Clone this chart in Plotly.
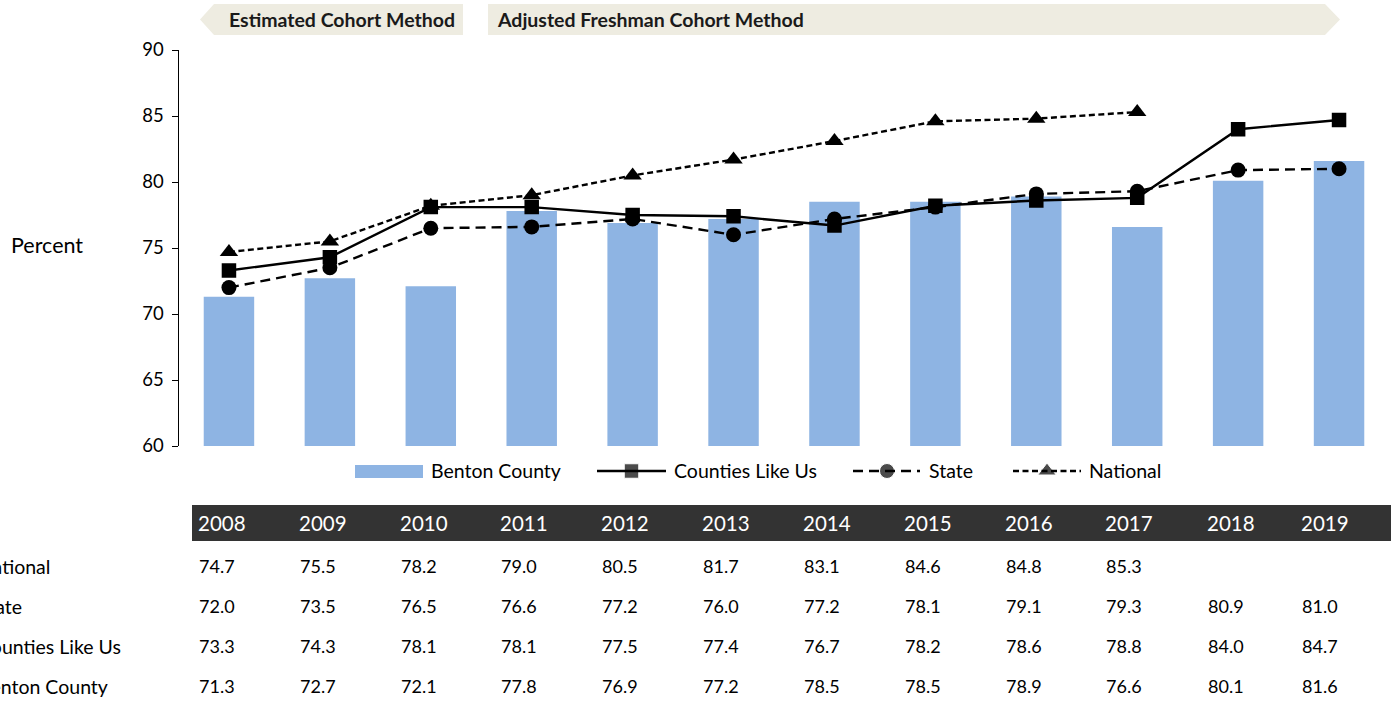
import plotly.graph_objects as go

years = ["2008", "2009", "2010", "2011", "2012", "2013", "2014", "2015", "2016", "2017", "2018", "2019"]
benton = [71.3, 72.7, 72.1, 77.8, 76.9, 77.2, 78.5, 78.5, 78.9, 76.6, 80.1, 81.6]
counties = [73.3, 74.3, 78.1, 78.1, 77.5, 77.4, 76.7, 78.2, 78.6, 78.8, 84.0, 84.7]
state = [72.0, 73.5, 76.5, 76.6, 77.2, 76.0, 77.2, 78.1, 79.1, 79.3, 80.9, 81.0]
national = [74.7, 75.5, 78.2, 79.0, 80.5, 81.7, 83.1, 84.6, 84.8, 85.3, None, None]
series_names = ["Benton County", "Counties Like Us", "State", "National"]
banner_labels = ["Estimated Cohort Method", "Adjusted Freshman Cohort Method"]
y_ticks = [60, 65, 70, 75, 80, 85, 90]

W, H = 1396, 702
FONT = "Lato, Calibri, Carlito, sans-serif"
BAR = "#8EB4E3"
LW = 2.4
SQ, CI, TR = 14.5, 15, 16
DASH_STATE, DASH_NAT = "10px,6px", "6px,3.5px"


def X(px):
    return px / W


def Y(py):
    return 1 - py / H


xs = list(range(len(years)))
fig = go.Figure()
fig.add_trace(go.Bar(x=xs, y=benton, marker=dict(color=BAR, line=dict(width=0)),
                     width=0.5, name=series_names[0], showlegend=False))
fig.add_trace(go.Scatter(x=xs, y=counties, mode="lines+markers", name=series_names[1],
                         line=dict(color="black", width=LW),
                         marker=dict(symbol="square", size=SQ, color="black"), showlegend=False))
fig.add_trace(go.Scatter(x=xs, y=state, mode="lines+markers", name=series_names[2],
                         line=dict(color="black", width=LW, dash=DASH_STATE),
                         marker=dict(symbol="circle", size=CI, color="black"), showlegend=False))
fig.add_trace(go.Scatter(x=xs, y=national, mode="lines+markers", name=series_names[3],
                         line=dict(color="black", width=LW, dash=DASH_NAT),
                         marker=dict(symbol="triangle-up", size=TR, color="black"), showlegend=False))

shapes = []
annotations = []

# Banners
shapes.append(dict(type="path", xref="paper", yref="paper",
                   path=f"M {X(214)},{Y(4)} L {X(463)},{Y(4)} L {X(463)},{Y(35)} L {X(214)},{Y(35)} L {X(200)},{Y(19.5)} Z",
                   fillcolor="#EEECE1", line=dict(width=0), layer="below"))
shapes.append(dict(type="path", xref="paper", yref="paper",
                   path=f"M {X(488)},{Y(4)} L {X(1325)},{Y(4)} L {X(1340)},{Y(19.5)} L {X(1325)},{Y(35)} L {X(488)},{Y(35)} Z",
                   fillcolor="#EEECE1", line=dict(width=0), layer="below"))
annotations.append(dict(x=X(227), y=Y(20), xref="paper", yref="paper", xanchor="left", yanchor="middle",
                        text=f"<b>{banner_labels[0]}</b>", showarrow=False,
                        font=dict(family=FONT, size=19.5, color="#1a1a1a")))
annotations.append(dict(x=X(495), y=Y(20), xref="paper", yref="paper", xanchor="left", yanchor="middle",
                        text=f"<b>{banner_labels[1]}</b>", showarrow=False,
                        font=dict(family=FONT, size=19.5, color="#1a1a1a")))

# Y title
annotations.append(dict(x=X(9), y=Y(245), xref="paper", yref="paper", xanchor="left", yanchor="middle",
                        text="Percent", showarrow=False, font=dict(family=FONT, size=21.5, color="black")))

# Custom legend
ly = 471
shapes.append(dict(type="rect", xref="paper", yref="paper", x0=X(355), x1=X(423), y0=Y(465), y1=Y(478),
                   fillcolor=BAR, line=dict(width=0)))
leg_lines = [(597, 666, "solid"), (853, 920, DASH_STATE), (1013, 1081, DASH_NAT)]
for x0, x1, d in leg_lines:
    shapes.append(dict(type="line", xref="paper", yref="paper", x0=X(x0), x1=X(x1), y0=Y(ly), y1=Y(ly),
                       line=dict(color="black", width=LW, dash=d)))
leg_text_x = [429, 672, 927, 1087]
for name, tx in zip(series_names, leg_text_x):
    annotations.append(dict(x=X(tx), y=Y(ly), xref="paper", yref="paper", xanchor="left", yanchor="middle",
                            text=name, showarrow=False, font=dict(family=FONT, size=19.5, color="black")))
fig.add_trace(go.Scatter(x=[631.5, 887, 1047], y=[ly, ly, ly], mode="markers", xaxis="x2", yaxis="y2",
                         marker=dict(symbol=["square", "circle", "triangle-up"], size=[SQ, CI, TR], color="black"),
                         showlegend=False, hoverinfo="skip"))

# Table
shapes.append(dict(type="rect", xref="paper", yref="paper", x0=X(192), x1=X(1391), y0=Y(505), y1=Y(541),
                   fillcolor="#333333", line=dict(width=0)))
col_x = [198, 299, 400, 500, 601, 702, 803, 904, 1005, 1105, 1207, 1301]
for yr, cx in zip(years, col_x):
    annotations.append(dict(x=X(cx - 2), y=Y(523), xref="paper", yref="paper", xanchor="left", yanchor="middle",
                            text=yr, showarrow=False, font=dict(family=FONT, size=20.5, color="white")))
rows = [(series_names[3], national, 566), (series_names[2], state, 606),
        (series_names[1], counties, 646), (series_names[0], benton, 686)]
for name, vals, ry in rows:
    annotations.append(dict(x=X(-24), y=Y(ry), xref="paper", yref="paper", xanchor="left", yanchor="middle",
                            text=name, showarrow=False, font=dict(family=FONT, size=19.5, color="black")))
    for v, cx in zip(vals, col_x):
        if v is None:
            continue
        annotations.append(dict(x=X(cx - 1), y=Y(ry), xref="paper", yref="paper", xanchor="left", yanchor="middle",
                                text=f"{v:.1f}", showarrow=False, font=dict(family=FONT, size=18, color="black")))

fig.update_layout(
    template="none",
    width=W, height=H,
    margin=dict(l=0, r=0, t=0, b=0, pad=0, autoexpand=False),
    paper_bgcolor="white", plot_bgcolor="rgba(0,0,0,0)",
    font=dict(family=FONT, size=17, color="black"),
    showlegend=False,
    xaxis=dict(domain=[X(178.5), X(1389.5)], range=[-0.5, 11.5], showticklabels=False, ticks="",
               showgrid=False, zeroline=False, showline=False, fixedrange=True, automargin=False),
    yaxis=dict(domain=[Y(446), Y(50)], range=[60, 90], tickvals=y_ticks, ticks="outside", ticklen=6,
               tickcolor="black", showline=True, linecolor="black", linewidth=1, showgrid=False,
               zeroline=False, tickfont=dict(family=FONT, size=18.5, color="black"), ticklabelstandoff=4,
               automargin=False, fixedrange=True),
    xaxis2=dict(domain=[0, 1], range=[0, W], visible=False, anchor="y2", fixedrange=True, automargin=False),
    yaxis2=dict(domain=[0, 1], range=[H, 0], visible=False, anchor="x2", fixedrange=True, automargin=False),
    shapes=shapes, annotations=annotations, bargap=0.5,
)

fig.write_html("out.html", config={"displayModeBar": False},
               post_script="document.body.style.margin='0';document.body.style.padding='0';")
